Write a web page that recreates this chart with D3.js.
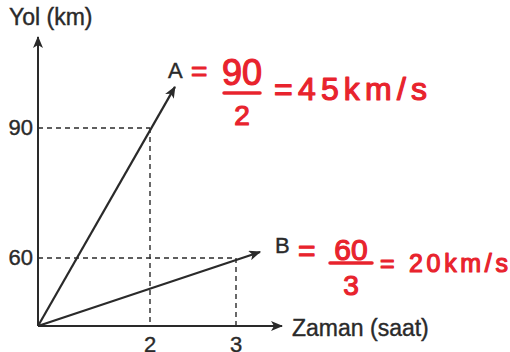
<!DOCTYPE html>
<html>
<head>
<meta charset="utf-8">
<script src="https://cdn.jsdelivr.net/npm/d3@7"></script>
<style>
  body { margin: 0; background: #fff; }
  svg { display: block; font-family: "Liberation Sans", Arial, sans-serif; }
</style>
</head>
<body>
<svg id="chart" width="510" height="352"></svg>
<script>
// values
var xTicks = [2, 3];
var yTicks = [60, 90];
var vectorNames = ['A', 'B'];
var vectorEnds = [[2.29, 99.5], [3.28, 61.4]];
var guidePoints = [[2, 90], [3, 60]];
var xTitle = 'Zaman (saat)';
var yTitle = 'Yol (km)';
// handwritten notes: [numerator, denominator, result]
var notes = [['90', '2', '=45km/s'], ['60', '3', '= 20km/s']];

var W = 510, H = 352;
var ink = '#2a2a2a';
var red = '#e8232d';

var svg = d3.select('#chart');

// the sketch is not to scale, so the scales are piecewise
var x = d3.scaleLinear().domain([0, 2, 3]).range([38, 150, 236]);
var y = d3.scaleLinear().domain([0, 60, 90]).range([326, 258, 128]);

var defs = svg.append('defs');
defs.append('marker')
  .attr('id', 'head')
  .attr('viewBox', '0 0 12 10')
  .attr('refX', 11).attr('refY', 5)
  .attr('markerWidth', 13).attr('markerHeight', 10)
  .attr('markerUnits', 'userSpaceOnUse')
  .attr('orient', 'auto')
  .append('path')
  .attr('d', 'M0,0 L12,5 L0,10 L3,5 Z')
  .attr('fill', ink);

// guide lines (dashed)
guidePoints.forEach(function(p){
  svg.append('line')
    .attr('x1', x(0)).attr('y1', y(p[1]))
    .attr('x2', x(p[0])).attr('y2', y(p[1]))
    .attr('stroke', ink).attr('stroke-width', 1.4)
    .attr('stroke-dasharray', '5,4');
  svg.append('line')
    .attr('x1', x(p[0])).attr('y1', y(p[1]))
    .attr('x2', x(p[0])).attr('y2', y(0))
    .attr('stroke', ink).attr('stroke-width', 1.4)
    .attr('stroke-dasharray', '5,4');
});

// axes
svg.append('line')
  .attr('x1', x(0)).attr('y1', y(0))
  .attr('x2', 282).attr('y2', y(0))
  .attr('stroke', ink).attr('stroke-width', 2)
  .attr('marker-end', 'url(#head)');
svg.append('line')
  .attr('x1', x(0)).attr('y1', y(0))
  .attr('x2', x(0)).attr('y2', 37)
  .attr('stroke', ink).attr('stroke-width', 2)
  .attr('marker-end', 'url(#head)');

// tick labels
svg.selectAll('.xt').data(xTicks).enter().append('text')
  .attr('x', function(d){ return x(d); })
  .attr('y', 352)
  .attr('text-anchor', 'middle')
  .attr('font-size', 22)
  .attr('fill', ink)
  .attr('stroke', ink).attr('stroke-width', 0.4)
  .text(function(d){ return d; });

svg.selectAll('.yt').data(yTicks).enter().append('text')
  .attr('x', 33)
  .attr('y', function(d){ return y(d) + 7; })
  .attr('text-anchor', 'end')
  .attr('font-size', 22)
  .attr('fill', ink)
  .attr('stroke', ink).attr('stroke-width', 0.4)
  .text(function(d){ return d; });

svg.append('text')
  .attr('x', 9).attr('y', 25)
  .attr('font-size', 23)
  .attr('fill', ink)
  .attr('stroke', ink).attr('stroke-width', 0.4)
  .text(yTitle);

svg.append('text')
  .attr('x', 292).attr('y', 336)
  .attr('font-size', 23)
  .attr('fill', ink)
  .attr('stroke', ink).attr('stroke-width', 0.4)
  .text(xTitle);

// vectors A and B
vectorEnds.forEach(function(e){
  svg.append('line')
    .attr('x1', x(0)).attr('y1', y(0))
    .attr('x2', x(e[0])).attr('y2', y(e[1]))
    .attr('stroke', ink).attr('stroke-width', 2.2)
    .attr('marker-end', 'url(#head)');
});

var nameOffsets = [[-7, -9], [15, 1]];
vectorEnds.forEach(function(e, i){
  svg.append('text')
    .attr('x', x(e[0]) + nameOffsets[i][0])
    .attr('y', y(e[1]) + nameOffsets[i][1])
    .attr('font-size', 22)
    .attr('fill', ink)
    .attr('stroke', ink).attr('stroke-width', 0.4)
    .text(vectorNames[i]);
});

// red handwritten working (marker pen, so a thicker stroke)
var noteLayout = [
  {eqX: 191, eqY: 81, eqSize: 28,
   fx: 242, numY: 85, numSize: 36, barY: 93, half: 18, denY: 125, denSize: 28,
   resX: 274, resY: 100, resSize: 32, resW: 153},
  {eqX: 298, eqY: 261, eqSize: 30,
   fx: 351, numY: 260, numSize: 30, barY: 263, half: 21, denY: 295, denSize: 28,
   resX: 380, resY: 272, resSize: 25, resW: 128}
];
notes.forEach(function(n, i){
  var L = noteLayout[i];
  var g = svg.append('g').attr('fill', red)
    .attr('stroke', red).attr('stroke-width', 1.2).attr('stroke-linejoin', 'round');
  g.append('text').attr('x', L.eqX).attr('y', L.eqY)
    .attr('font-size', L.eqSize).text('=');
  g.append('text').attr('x', L.fx).attr('y', L.numY)
    .attr('text-anchor', 'middle').attr('font-size', L.numSize).text(n[0]);
  g.append('line')
    .attr('x1', L.fx - L.half).attr('x2', L.fx + L.half)
    .attr('y1', L.barY).attr('y2', L.barY)
    .attr('stroke-width', 3.5)
    .attr('stroke-linecap', 'round');
  g.append('text').attr('x', L.fx).attr('y', L.denY)
    .attr('text-anchor', 'middle').attr('font-size', L.denSize).text(n[1]);
  g.append('text').attr('x', L.resX).attr('y', L.resY)
    .attr('font-size', L.resSize)
    .attr('textLength', L.resW).attr('lengthAdjust', 'spacing')
    .text(n[2]);
});
</script>
</body>
</html>
